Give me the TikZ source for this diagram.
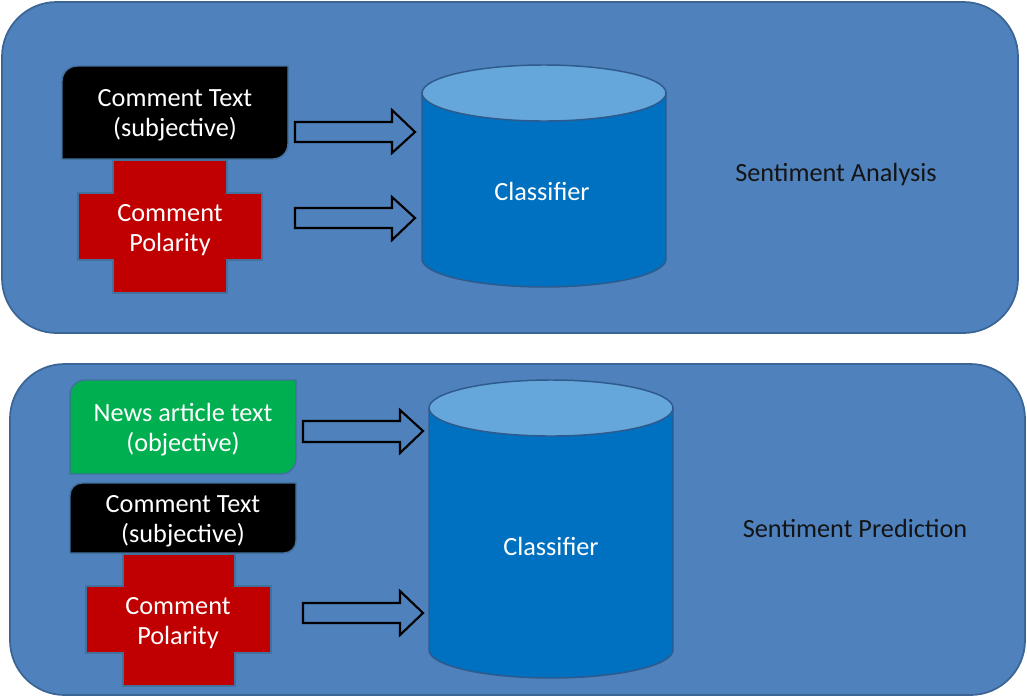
\documentclass[tikz,border=0pt]{standalone}
\usepackage{fontspec}
\setmainfont{Carlito}
\definecolor{panel}{HTML}{4F81BD}
\definecolor{edge}{HTML}{3A6594}
\definecolor{boxedge}{HTML}{41719C}
\definecolor{crossred}{HTML}{C00000}
\definecolor{newsgreen}{HTML}{00B050}
\definecolor{cylbodycol}{HTML}{0070C0}
\definecolor{cyltopcol}{HTML}{65A7DA}
\definecolor{cyledge}{HTML}{2F5A8C}
\begin{document}
\begin{tikzpicture}[x=0.75pt,y=-0.75pt,
  panelbox/.style={fill=panel,draw=edge,line width=1.3pt},
  shapeedge/.style={draw=boxedge,line width=1.1pt},
  lbl/.style={text=white,align=center,font=\fontsize{19.7}{22.5}\selectfont,inner sep=0pt},
  side/.style={text=black!92,font=\fontsize{19.7}{22.5}\selectfont,inner sep=0pt},
  blockarrow/.style={draw=black,line width=1.6pt,fill=panel,line join=miter},
  cylbody/.style={fill=cylbodycol,draw=cyledge,line width=1.1pt},
  cyltop/.style={fill=cyltopcol,draw=cyledge,line width=1.1pt}]

\useasboundingbox (0,0) rectangle (1027,697);

% panels
\draw[panelbox, rounded corners=41pt] (2,2) rectangle (1018,333);
\draw[panelbox, rounded corners=41pt] (10,364) rectangle (1025,695);

% ---------- top panel ----------
\draw[shapeedge, fill=black] (62,159) -- (62,81) arc[start angle=180,end angle=270,radius=15] -- (288,66) -- (288,144) arc[start angle=0,end angle=90,radius=15] -- cycle;
\node[lbl] (ct1) at (175,115) {Comment Text\\(subjective)};

\draw[shapeedge, fill=crossred] (113,160) -- (227,160) -- (227,193) -- (262,193) -- (262,260) -- (227,260) -- (227,293) -- (113,293) -- (113,260) -- (78,260) -- (78,193) -- (113,193) -- cycle;
\node[lbl] (cp1) at (170,230) {Comment\\Polarity};

\draw[blockarrow] (295,122) -- (392,122) -- (392,110) -- (415,132) -- (392,153) -- (392,142) -- (295,142) -- cycle;
\draw[blockarrow] (295,208) -- (392,208) -- (392,197) -- (415,218) -- (392,240) -- (392,228) -- (295,228) -- cycle;

\filldraw[cylbody] (422,93) -- (422,259) arc[start angle=180,end angle=0,x radius=122,y radius=28] -- (666,93) -- cycle;
\draw[cyltop] (544,93) ellipse[x radius=122,y radius=28];
\node[lbl] (cls1) at (542,191) {Classifier};

\node[side] (sa) at (836,174) {Sentiment Analysis};

% ---------- bottom panel ----------
\draw[shapeedge, fill=newsgreen] (70,474) -- (70,395) arc[start angle=180,end angle=270,radius=15] -- (296,380) -- (296,459) arc[start angle=0,end angle=90,radius=15] -- cycle;
\node[lbl] (nt) at (183,430) {News article text\\(objective)};

\draw[shapeedge, fill=black] (70,553) -- (70,495) arc[start angle=180,end angle=270,radius=12] -- (296,483) -- (296,541) arc[start angle=0,end angle=90,radius=12] -- cycle;
\node[lbl] (ct2) at (183,521) {Comment Text\\(subjective)};

\draw[shapeedge, fill=crossred] (123,554) -- (235,554) -- (235,586) -- (271,586) -- (271,653) -- (235,653) -- (235,686) -- (123,686) -- (123,653) -- (86,653) -- (86,586) -- (123,586) -- cycle;
\node[lbl] (cp2) at (178,623) {Comment\\Polarity};

\draw[blockarrow] (303,421) -- (400,421) -- (400,410) -- (423,431) -- (400,453) -- (400,442) -- (303,442) -- cycle;
\draw[blockarrow] (303,603) -- (400,603) -- (400,591) -- (423,613) -- (400,635) -- (400,623) -- (303,623) -- cycle;

\filldraw[cylbody] (429,408) -- (429,650) arc[start angle=180,end angle=0,x radius=122,y radius=28] -- (673,408) -- cycle;
\draw[cyltop] (551,408) ellipse[x radius=122,y radius=28];
\node[lbl] (cls2) at (551,546) {Classifier};

\node[side] (sp) at (855,528) {Sentiment Prediction};
\end{tikzpicture}
\end{document}
